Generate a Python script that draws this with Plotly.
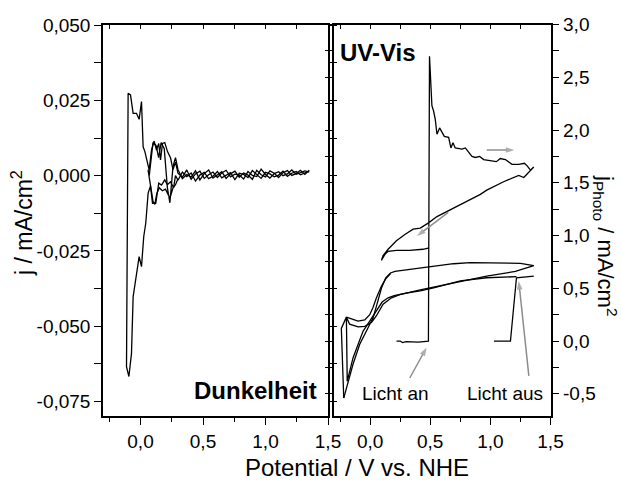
import plotly.graph_objects as go

# ---------------- data: left panel (Dunkelheit) ----------------
noise_x = [0.30, 0.335, 0.37, 0.405, 0.44, 0.475, 0.51, 0.545, 0.58, 0.615, 0.65,
           0.685, 0.72, 0.755, 0.79, 0.825, 0.86, 0.895, 0.93, 0.965, 1.00, 1.035,
           1.07, 1.105, 1.14, 1.175, 1.21, 1.245, 1.28, 1.315, 1.35]
noise_y1 = [0.0008, -0.0005, 0.0019, -0.0012, 0.0006, 0.0015, -0.0009, 0.0003, 0.0012, -0.0006,
            0.0009, 0.0018, -0.0004, 0.0005, 0.0002, -0.0011, 0.0014, 0.0001, -0.0003, 0.0022,
            0.0004, -0.0008, 0.0007, 0.0013, 0.0000, 0.0006, 0.0019, 0.0005, 0.0010, 0.0016, 0.0012]
noise_y2 = [-0.0015, 0.0012, -0.0003, 0.0009, -0.0018, 0.0002, 0.0011, -0.0010, -0.0002, 0.0014,
            -0.0007, 0.0003, 0.0010, -0.0013, 0.0008, 0.0004, -0.0006, 0.0017, 0.0005, -0.0009,
            0.0011, 0.0006, -0.0004, 0.0002, 0.0015, -0.0002, 0.0008, 0.0014, 0.0003, 0.0009, 0.0015]
noise_y3 = [0.0020, -0.0010, 0.0004, -0.0005, 0.0016, -0.0014, 0.0007, 0.0019, -0.0008, 0.0001,
            0.0013, -0.0009, 0.0006, 0.0015, -0.0005, 0.0009, 0.0002, -0.0012, 0.0018, 0.0003,
            -0.0004, 0.0016, 0.0008, -0.0006, 0.0010, 0.0017, 0.0001, 0.0007, 0.0018, 0.0004, 0.0018]

# cycle 1: cathodic end, step at -0.1 V, anodic start
dark1_x = [0.28, 0.26, 0.24, 0.216, 0.194, 0.176, 0.16, 0.146, 0.128, 0.109, 0.088, 0.069,
           0.053, 0.035, 0.021, 0.008, -0.011, -0.032, -0.059, -0.08, -0.099, -0.102, -0.106,
           -0.112, -0.093, -0.072, -0.059, -0.032, -0.011, 0.008, 0.026, 0.042, 0.061, 0.08,
           0.096, 0.122, 0.146, 0.168, 0.194, 0.215, 0.24, 0.265, 0.28]
dark1_y = [0.0045, 0.002, 0.006, 0.008, 0.011, 0.0107, 0.0052, 0.0107, 0.0085, 0.0115, 0.0085, 0.0019,
           0.0052, 0.008, 0.0096, 0.0246, 0.0187, 0.0207, 0.0207, 0.0268, 0.0274, 0.010, -0.025,
           -0.0634, -0.0667, -0.059, -0.0402, -0.0324, -0.0269, -0.0302, -0.0202, -0.0158, -0.0058, -0.0034,
           -0.0092, -0.0092, -0.0025, -0.0031, -0.0014, -0.003, -0.002, -0.004, 0.000]
# cycle 2: oscillating loop near 0.05-0.3 V
dark2_x = [0.28, 0.26, 0.235, 0.215, 0.19, 0.165, 0.145, 0.125, 0.10, 0.085, 0.07, 0.06,
           0.08, 0.10, 0.115, 0.13, 0.15, 0.175, 0.20, 0.235, 0.26, 0.28, 0.30]
dark2_y = [0.006, 0.003, -0.009, -0.004, 0.009, 0.011, 0.006, 0.010, 0.011, 0.006, 0.000, 0.002,
           -0.003, -0.0085, -0.0095, -0.006, -0.004, -0.005, -0.0045, -0.0075, -0.004, -0.003, -0.001]

# ---------------- data: right panel (UV-Vis) ----------------
# light on -> transient spike, decay, cathodic return
uv1_x = [0.22, 0.25, 0.27, 0.30, 0.40, 0.485, 0.49, 0.494, 0.514, 0.528, 0.542, 0.556, 0.578, 0.597,
         0.617, 0.653, 0.672, 0.689, 0.708, 0.764, 0.792, 0.819, 0.847, 0.875, 0.911, 0.944,
         1.0, 1.05, 1.083, 1.125, 1.18, 1.236, 1.283, 1.306, 1.333, 1.361,
         1.278, 1.236, 1.11, 0.97, 0.917, 0.778, 0.694, 0.556, 0.486, 0.417, 0.358, 0.289,
         0.219, 0.15, 0.108, 0.094, 0.122, 0.15, 0.22, 0.33, 0.44, 0.483]
uv1_y = [0.0, 0.0, -0.015, -0.005, -0.01, 0.0, 1.5, 2.70, 2.23, 2.18, 2.10, 1.96, 2.02, 1.98,
         1.94, 1.93, 1.83, 1.88, 1.83, 1.82, 1.83, 1.79, 1.75, 1.74, 1.75, 1.72,
         1.71, 1.70, 1.73, 1.72, 1.675, 1.675, 1.685, 1.66, 1.62, 1.65,
         1.55, 1.57, 1.51, 1.43, 1.39, 1.31, 1.26, 1.18, 1.12, 1.07, 1.06, 1.01,
         0.95, 0.87, 0.81, 0.765, 0.82, 0.85, 0.86, 0.86, 0.87, 0.88]
# light off step
uv2_x = [1.03, 1.10, 1.167, 1.217, 1.30, 1.361]
uv2_y = [0.0, 0.0, 0.0, 0.60, 0.612, 0.615]
# upper CV loop
uv3_x = [-0.219, -0.142, -0.086, -0.03, 0.025, 0.06, 0.094, 0.13, 0.17, 0.206, 0.30, 0.417, 0.528,
         0.694, 0.833, 1.11, 1.25, 1.361, 1.25, 1.208, 0.97, 0.694, 0.528, 0.417, 0.247, 0.178,
         0.108, 0.053, 0.011, -0.044, -0.10, -0.17, -0.197]
uv3_y = [-0.54, -0.22, -0.03, 0.095, 0.22, 0.36, 0.50, 0.60, 0.645, 0.66, 0.675, 0.69, 0.71,
         0.733, 0.743, 0.743, 0.737, 0.715, 0.68, 0.66, 0.615, 0.55, 0.515, 0.485, 0.44, 0.41,
         0.35, 0.24, 0.175, 0.14, 0.135, 0.16, 0.227]
# lower CV loop with start spikes
uv4_x = [-0.219, -0.239, -0.197, -0.19, -0.142, -0.058, -0.003, 0.05, 0.10, 0.15, 0.20, 0.30,
         0.417, 0.528, 0.75, 0.97, 1.217]
uv4_y = [-0.54, 0.12, 0.227, -0.38, -0.16, 0.095, 0.19, 0.28, 0.37, 0.41, 0.43, 0.455,
         0.475, 0.505, 0.57, 0.60, 0.61]
# curve from the spike apex
uv5_x = [-0.197, -0.156, -0.10, -0.044, -0.003, 0.025, 0.053, 0.094, 0.13, 0.17]
uv5_y = [0.227, 0.21, 0.19, 0.20, 0.25, 0.32, 0.41, 0.52, 0.59, 0.64]

# gray arrows in the UV-Vis panel: (tail x, tail y, head x, head y)
arrow_tail_x = [0.97, 0.65, 0.33, 1.32]
arrow_tail_y = [1.81, 1.22, -0.35, -0.33]
arrow_head_x = [1.20, 0.39, 0.47, 1.236]
arrow_head_y = [1.81, 0.995, -0.06, 0.57]

# tick labels
xt_vals = [0.0, 0.5, 1.0, 1.5]
xt_text = ["0,0", "0,5", "1,0", "1,5"]
x_minor = [-0.25, 0.25, 0.75, 1.25]
yl_vals = [-0.075, -0.05, -0.025, 0.0, 0.025, 0.05]
yl_text = ["-0,075", "-0,050", "-0,025", "0,000", "0,025", "0,050"]
yl_minor = [-0.0625, -0.0375, -0.0125, 0.0125, 0.0375]
yr_vals = [-0.5, 0.0, 0.5, 1.0, 1.5, 2.0, 2.5, 3.0]
yr_text = ["-0,5", "0,0", "0,5", "1,0", "1,5", "2,0", "2,5", "3,0"]
yr_minor = [-0.25, 0.25, 0.75, 1.25, 1.75, 2.25, 2.75]
top_ticks = [-0.25, 0.0, 0.25, 0.5, 0.75, 1.0, 1.25, 1.5]

FONT = "Liberation Sans, Arial, sans-serif"
LINE = dict(color="black", width=1.3)
GRAY = "#8c8c8c"

fig = go.Figure()
# left panel
fig.add_trace(go.Scatter(x=noise_x[::-1] + dark1_x + noise_x, y=noise_y1[::-1] + dark1_y + noise_y2,
                         mode="lines", line=LINE, xaxis="x", yaxis="y", showlegend=False))
fig.add_trace(go.Scatter(x=noise_x[::-1] + dark2_x, y=noise_y3[::-1] + dark2_y,
                         mode="lines", line=LINE, xaxis="x", yaxis="y", showlegend=False))
# right panel
for xs, ys in [(uv1_x, uv1_y), (uv2_x, uv2_y), (uv3_x, uv3_y), (uv4_x, uv4_y), (uv5_x, uv5_y)]:
    fig.add_trace(go.Scatter(x=xs, y=ys, mode="lines", line=LINE, xaxis="x2", yaxis="y2",
                             showlegend=False))
# arrows: a gray line with an arrow marker at the head
for tx, ty, hx, hy in zip(arrow_tail_x, arrow_tail_y, arrow_head_x, arrow_head_y):
    fig.add_trace(go.Scatter(x=[tx, hx], y=[ty, hy], mode="lines+markers", xaxis="x2", yaxis="y2",
                             line=dict(color=GRAY, width=1.5),
                             marker=dict(symbol="arrow", size=[0, 9], angleref="previous",
                                         color=GRAY, line=dict(width=0)),
                             showlegend=False, hoverinfo="skip"))
# invisible traces to activate top tick axes
fig.add_trace(go.Scatter(x=[0], y=[0], mode="markers", marker=dict(opacity=0), xaxis="x3", yaxis="y",
                         showlegend=False, hoverinfo="skip"))
fig.add_trace(go.Scatter(x=[0], y=[0], mode="markers", marker=dict(opacity=0), xaxis="x4", yaxis="y2",
                         showlegend=False, hoverinfo="skip"))

W, H = 621, 481
xdomL = [103 / W, 328 / W]
xdomR = [334 / W, 550.5 / W]
ydom = [1 - 416 / H, 1 - 24.5 / H]

tickfont = dict(family=FONT, size=19, color="black")

def xax(domain, anchor):
    return dict(domain=domain, anchor=anchor, range=[-0.3, 1.5], showgrid=False, zeroline=False,
                automargin=False,
                showline=True, linecolor="black", linewidth=1.5, mirror=True,
                ticks="outside", ticklen=7, tickwidth=1.3, tickcolor="black",
                tickmode="array", tickvals=xt_vals, ticktext=xt_text, tickfont=tickfont,
                minor=dict(tickmode="array", tickvals=x_minor, ticks="outside", ticklen=4,
                           tickwidth=1.3, tickcolor="black"))

def topax(domain, over, anchor):
    return dict(domain=domain, overlaying=over, anchor=anchor, side="top", range=[-0.3, 1.5],
                automargin=False,
                showgrid=False, zeroline=False, showline=False, ticks="inside", ticklen=4,
                tickwidth=1.3, tickcolor="black", tickmode="array", tickvals=top_ticks,
                showticklabels=False)

fig.update_layout(
    width=W, height=H, margin=dict(l=0, r=0, t=0, b=0, autoexpand=False),
    paper_bgcolor="white", plot_bgcolor="white",
    xaxis=xax(xdomL, "y"),
    xaxis2=xax(xdomR, "y2"),
    xaxis3=topax(xdomL, "x", "y"),
    xaxis4=topax(xdomR, "x2", "y2"),
    yaxis=dict(domain=ydom, anchor="x", range=[-0.0798, 0.0502], showgrid=False, zeroline=False,
               automargin=False,
               showline=True, linecolor="black", linewidth=1.5, mirror="allticks",
               ticks="outside", ticklen=7, tickwidth=1.3, tickcolor="black",
               tickmode="array", tickvals=yl_vals, ticktext=yl_text, tickfont=tickfont,
               minor=dict(tickmode="array", tickvals=yl_minor, ticks="outside", ticklen=4,
                          tickwidth=1.3, tickcolor="black")),
    yaxis2=dict(domain=ydom, anchor="x2", side="right", range=[-0.71, 3.0], showgrid=False,
                automargin=False,
                zeroline=False, showline=True, linecolor="black", linewidth=1.5, mirror="allticks",
                ticks="outside", ticklen=7, tickwidth=1.3, tickcolor="black",
                tickmode="array", tickvals=yr_vals, ticktext=yr_text, tickfont=tickfont,
                minor=dict(tickmode="array", tickvals=yr_minor, ticks="outside", ticklen=4,
                           tickwidth=1.3, tickcolor="black")),
)

ann = []
ann.append(dict(text="<b>Dunkelheit</b>", x=255 / W, y=1 - 390 / H, xref="paper", yref="paper",
                showarrow=False, font=dict(family=FONT, size=24, color="black"),
                xanchor="center", yanchor="middle"))
ann.append(dict(text="<b>UV-Vis</b>", x=378 / W, y=1 - 52 / H, xref="paper", yref="paper",
                showarrow=False, font=dict(family=FONT, size=24, color="black"),
                xanchor="center", yanchor="middle"))
ann.append(dict(text="Licht an", x=396 / W, y=1 - 393 / H, xref="paper", yref="paper",
                showarrow=False, font=dict(family=FONT, size=19, color="black"),
                xanchor="center", yanchor="middle"))
ann.append(dict(text="Licht aus", x=505 / W, y=1 - 393 / H, xref="paper", yref="paper",
                showarrow=False, font=dict(family=FONT, size=19, color="black"),
                xanchor="center", yanchor="middle"))
ann.append(dict(text="Potential / V vs. NHE", x=357 / W, y=1 - 467 / H, xref="paper", yref="paper",
                showarrow=False, font=dict(family=FONT, size=24, color="black"),
                xanchor="center", yanchor="middle"))
ann.append(dict(text="j / mA/cm<sup>2</sup>", x=22 / W, y=1 - 223 / H, xref="paper", yref="paper",
                showarrow=False, textangle=-90, font=dict(family=FONT, size=23, color="black"),
                xanchor="center", yanchor="middle"))
ann.append(dict(text="j<sub>Photo</sub> / mA/cm<sup>2</sup>", x=606 / W, y=1 - 245 / H,
                xref="paper", yref="paper", showarrow=False, textangle=90,
                font=dict(family=FONT, size=22, color="black"), xanchor="center", yanchor="middle"))
fig.update_layout(annotations=ann)

fig.write_html("out.html")
